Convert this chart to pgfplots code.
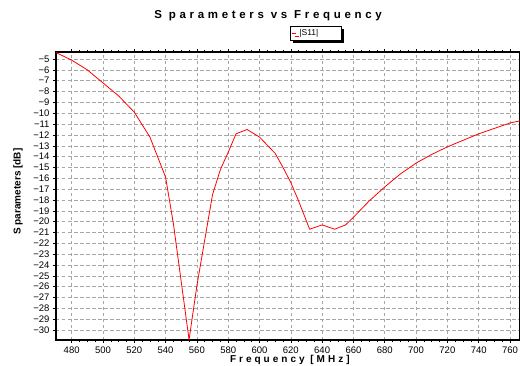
\documentclass[border=0pt]{standalone}
\usepackage{fontspec}
\setmainfont{Liberation Sans}
\usepackage{pgfplots}
\pgfplotsset{compat=1.18}
\usetikzlibrary{shadows}
\begin{document}
\begin{tikzpicture}
\begin{axis}[
  scale only axis,
  width=464pt, height=288pt,
  xmin=470, xmax=766.4, ymin=-30.92, ymax=-4.35,
  xtick={480,500,...,760},
  ytick={-30,-29,...,-5},
  minor x tick num=3,
  tick align=outside,
  major tick length=3pt,
  minor tick length=2pt,
  tick style={black, line width=0.5pt},
  axis line style={black, line width=1.2pt},
  grid=major,
  major grid style={dashed, gray!70, line width=0.5pt, dash pattern=on 3.5pt off 2.5pt},
  tick label style={font=\fontsize{9.5}{10}\selectfont},
  /pgf/number format/assume math mode=true,
  yticklabel={\ifdim\tick pt<0pt \char"2212\pgfmathparse{-\tick}\pgfmathprintnumber{\pgfmathresult}\else\pgfmathprintnumber{\tick}\fi},
  title={\addfontfeature{LetterSpace=32}S parameters vs Frequency},
  title style={at={(axis description cs:0.457,1.104)}, anchor=center, font=\fontsize{11.5}{12}\selectfont\bfseries},
  xlabel={\addfontfeature{LetterSpace=30}Frequency [MHz]},
  xlabel style={at={(axis description cs:0.504,-0.068)}, anchor=center, font=\fontsize{10}{11}\selectfont\bfseries},
  ylabel={S parameters [dB]},
  ylabel style={at={(axis description cs:-0.0819,0.515)}, anchor=center, font=\fontsize{10}{11}\selectfont\bfseries},
  legend style={at={(rel axis cs:0.504,1.09)}, anchor=north west, draw=black, line width=0.6pt, fill=white,
    drop shadow={shadow xshift=3pt, shadow yshift=-3pt, fill=black, opacity=1},
    font=\fontsize{8.5}{9}\selectfont, inner sep=1pt, row sep=0pt},
  legend cell align=left,
  legend image code/.code={\draw[red, line width=0.8pt] (0pt,0pt) -- (4pt,0pt);},
]
\addplot[red, line width=0.8pt, line join=round] coordinates {
(470,-4.4) (480,-5.1) (490,-6.0) (500,-7.2) (510,-8.4) (520,-9.9) (530,-12.2)
(540,-15.9) (545,-20.2) (555,-30.9) (560,-25.9) (570,-17.5) (575,-15.2)
(580,-13.6) (585,-11.9) (592,-11.5) (600,-12.2) (610,-13.7) (615,-15.0)
(620,-16.4) (625,-18.1) (632,-20.7) (640,-20.3) (648,-20.7) (655,-20.3)
(660,-19.6) (670,-18.1) (680,-16.8) (690,-15.6) (700,-14.6) (710,-13.8)
(720,-13.1) (730,-12.5) (740,-11.9) (750,-11.4) (760,-10.9) (766.4,-10.7)
};
\addlegendentry{\makebox[40pt][l]{\,|S11|}}
\end{axis}
\pgfresetboundingbox
\path (-56pt,-25pt) rectangle (464pt,340pt);
\end{tikzpicture}
\end{document}
